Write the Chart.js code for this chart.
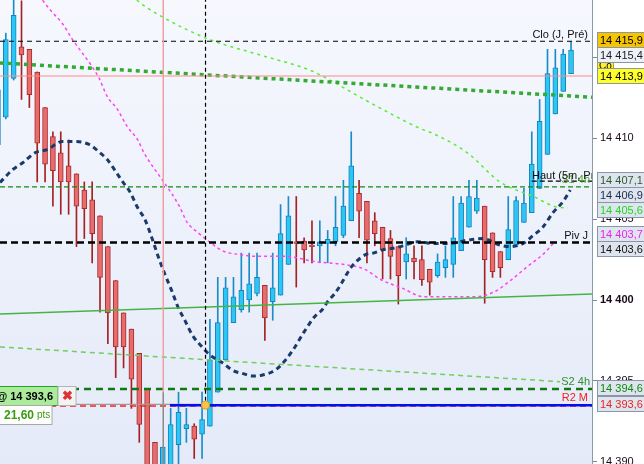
<!DOCTYPE html>
<html lang="fr">
<head>
    <meta charset="UTF-8">
    <title>Bougies 5 min</title>
    <style>
        body {
            margin: 0;
            padding: 0;
            background-color: #ffffff;
            overflow: hidden;
        }

        #chartContainer {
            width: 644px;
            height: 464px;
        }
    </style>
    <script src="https://cdn.jsdelivr.net/npm/chart.js"></script>
</head>
<body>
    <div id="chartContainer">
        <canvas id="prixChart" width="644" height="464"></canvas>
    </div>

    <script>
        // Bougies (de gauche à droite)
        const opens = [14409.6, 14411.3, 14413.7, 14415.65, 14415.5, 14414.1, 14411.9, 14410.1, 14409.1, 14408.3,
            14407.8, 14406.8, 14406.2, 14405.2, 14403.3, 14401.2, 14399.2, 14398.2, 14396.7, 14394.5,
            14391.2, 14389.2, 14389.3, 14391.05, 14392.05, 14392.2, 14391.7, 14392.2, 14394.3, 14396.3,
            14398.6, 14399.4, 14400.0, 14400.4, 14400.9, 14399.9, 14400.3, 14402.2, 14403.6, 14403.65,
            14403.4, 14403.35, 14403.5, 14403.6, 14404.0, 14404.9, 14406.6, 14406.1, 14404.9, 14404.5,
            14403.8, 14403.3, 14402.35, 14402.6, 14402.5, 14401.9, 14401.5, 14402.0, 14402.2, 14403.05,
            14404.5, 14405.5, 14405.8, 14404.15, 14403.0, 14402.5, 14403.4, 14404.8, 14405.4, 14406.9,
            14409.0, 14411.5, 14412.9, 14414.0];
        const highs = [14413.3, 14416.5, 14419.0, 14418.5, 14415.5, 14414.1, 14411.9, 14410.4, 14410.4, 14409.9,
            14407.8, 14407.3, 14407.3, 14405.2, 14403.3, 14401.2, 14399.2, 14398.2, 14396.7, 14394.5,
            14391.2, 14390.9, 14393.3, 14394.3, 14393.3, 14392.35, 14394.3, 14398.8, 14401.4, 14401.4,
            14401.4, 14402.9, 14402.9, 14402.9, 14400.9, 14402.9, 14405.9, 14406.4, 14406.4, 14403.85,
            14404.9, 14404.9, 14404.3, 14406.4, 14407.4, 14410.4, 14407.4, 14406.1, 14405.4, 14404.5,
            14404.3, 14403.3, 14403.85, 14403.35, 14403.35, 14401.9, 14402.85, 14403.35, 14406.4, 14406.4,
            14407.4, 14407.4, 14405.8, 14404.15, 14403.0, 14406.4, 14406.4, 14406.9, 14410.4, 14412.4,
            14415.5, 14415.5, 14415.5, 14416.0];
        const lows = [14409.0, 14411.2, 14413.6, 14412.4, 14411.9, 14407.3, 14407.3, 14405.8, 14405.3, 14405.3,
            14403.3, 14403.8, 14402.3, 14399.25, 14397.3, 14395.2, 14395.8, 14393.3, 14391.2, 14388.5,
            14388.5, 14388.5, 14388.5, 14389.5, 14391.2, 14390.2, 14390.2, 14392.2, 14394.3, 14396.3,
            14398.6, 14399.25, 14399.25, 14400.25, 14397.5, 14398.75, 14400.3, 14402.2, 14400.8, 14402.3,
            14402.3, 14402.3, 14402.3, 14403.35, 14403.85, 14404.9, 14403.85, 14402.3, 14403.35, 14401.3,
            14401.3, 14399.75, 14401.3, 14401.3, 14400.9, 14400.3, 14401.4, 14401.4, 14401.4, 14403.05,
            14404.5, 14405.35, 14399.8, 14401.4, 14401.4, 14402.5, 14403.4, 14404.8, 14405.4, 14406.9,
            14409.0, 14411.5, 14412.9, 14414.0];
        const closes = [14413.0, 14416.1, 14417.6, 14415.15, 14412.7, 14409.7, 14408.4, 14408.0, 14407.3, 14407.3,
            14405.8, 14405.65, 14404.1, 14401.4, 14399.2, 14397.1, 14397.1, 14395.1, 14392.3, 14388.8,
            14388.8, 14390.9, 14392.3, 14393.05, 14392.3, 14391.4, 14392.6, 14396.3, 14398.6, 14400.75,
            14400.2, 14400.6, 14401.0, 14401.4, 14398.9, 14400.75, 14404.1, 14405.2, 14403.5, 14403.1,
            14403.3, 14403.6, 14403.75, 14404.5, 14405.8, 14408.3, 14405.5, 14403.7, 14404.1, 14403.1,
            14402.7, 14401.5, 14402.85, 14402.35, 14401.25, 14401.1, 14402.35, 14402.5, 14403.85, 14406.0,
            14406.4, 14406.3, 14402.5, 14401.75, 14402.0, 14404.35, 14406.15, 14406.0, 14408.4, 14411.05,
            14414.0, 14414.35, 14415.2, 14415.45];

        // Moyenne bleu marine (position en bougies, valeur)
        const mmLongX = [0.26, 1.9, 3.2, 4.7, 6.25, 8.2, 9.6, 11.7, 13.0, 13.9, 15.2, 15.9, 16.8, 17.8, 18.7,
            19.6, 20.4, 21.3, 22.2, 22.9, 23.8, 24.8, 26.0, 27.0, 28.5, 29.9, 31.2, 32.5, 33.6, 34.9, 35.9,
            37.5, 38.9, 40.3, 41.3, 42.0, 42.9, 43.6, 44.2, 44.8, 45.7, 46.8, 47.8, 49.0, 50.3, 51.6, 53.4,
            55.4, 57.6, 59.8, 61.8, 63.9, 65.2, 66.9, 68.2, 69.4, 70.7, 72.0, 72.9];
        const mmLongY = [14407.27, 14408.07, 14408.5, 14409.1, 14409.3, 14409.8, 14409.8, 14409.6, 14409.1, 14408.7,
            14407.8, 14407.3, 14406.7, 14405.7, 14405.0, 14403.85, 14402.7, 14401.55, 14400.5, 14399.6, 14398.75,
            14397.8, 14397.1, 14396.6, 14396.15, 14395.65, 14395.45, 14395.3, 14395.35, 14395.55, 14395.9,
            14396.85, 14397.95, 14398.95, 14399.4, 14399.9, 14400.4, 14400.9, 14401.4, 14401.9, 14402.4,
            14402.8, 14402.9, 14403.1, 14403.2, 14403.35, 14403.6, 14403.5, 14403.5, 14403.7, 14403.8,
            14403.4, 14403.3, 14403.5, 14404.0, 14404.5, 14405.4, 14406.1, 14406.8];

        // Moyenne magenta
        const mmRoseX = [4.5, 5.6, 6.9, 8.2, 9.5, 10.7, 11.9, 12.9, 13.9, 15.2, 16.5, 17.8, 18.6, 20.9, 22.1,
            23.1, 24.1, 25.4, 27.2, 28.8, 31.0, 32.7, 36.5, 40.7, 44.1, 46.7, 48.8, 51.4, 54.3, 57.7, 60.7,
            63.2, 65.4, 67.4, 69.6, 70.9];
        const mmRoseY = [14419.5, 14418.6, 14417.8, 14417.1, 14416.1, 14415.3, 14414.5, 14413.7, 14412.6, 14411.8,
            14410.7, 14409.9, 14409.1, 14407.45, 14406.6, 14405.8, 14404.8, 14404.2, 14403.5, 14403.0, 14402.8,
            14402.7, 14402.7, 14402.35, 14402.2, 14401.9, 14401.25, 14400.75, 14400.2, 14400.2, 14400.2,
            14400.5, 14401.25, 14402.05, 14402.9, 14403.6];

        // Moyenne vert clair
        const mmVertX = [16.5, 17.7, 20.6, 27.0, 33.4, 39.8, 42.3, 46.1, 50.3, 53.8, 55.4, 59.8, 63.95, 68.2, 71.2, 72.6];
        const mmVertY = [14419.2, 14418.55, 14417.6, 14416.1, 14415.15, 14414.2, 14413.6, 14412.55, 14411.45,
            14410.6, 14410.3, 14409.1, 14407.3, 14406.4, 14405.75, 14405.7];

        // Niveaux horizontaux
        const cloJPre = 14416.0;
        const resistance = 14413.85;
        const haut5m = 14407.35;
        const s1h4 = 14407.0;
        const pivJ = 14403.55;
        const s2h4 = 14394.5;
        const r2M = 14393.45;
        const ordre = 14393.5;

        // Droites obliques (début, fin)
        const tendanceX = [0.26, 75.67];
        const tendanceY = [14414.66, 14412.54];
        const supportX = [0.26, 75.67];
        const supportY = [14399.13, 14400.37];
        const s2ClairX = [0.26, 71.6];
        const s2ClairY = [14397.1, 14394.95];

        // Curseur et ordre
        const curseurX = 26.44;
        const ordreX = 21.06;
        const ordreDebut = 21.9;
        const gainPts = 21.6;

        // Étiquettes de l'axe de droite
        const etiquettes = [14415.9, 14415.4, 14413.9, 14407.1, 14406.9, 14405.6, 14403.7, 14403.6, 14394.6, 14393.6];

        const X_MIN = 0.26;
        const X_MAX = 75.67;
        const Y_MIN = 14389.86;
        const Y_MAX = 14418.55;
        const police = '"Liberation Sans", Arial, sans-serif';

        function fmtPrix(v, dec) {
            const s = v.toFixed(dec).split('.');
            const ent = s[0].replace(/\B(?=(\d{3})+(?!\d))/g, ' ');
            return s.length > 1 ? ent + ',' + s[1] : ent;
        }

        function ligne(xs, ys) {
            return xs.map((x, i) => ({ x: x, y: ys[i] }));
        }

        function horiz(v, from, to) {
            return [{ x: from, y: v }, { x: to, y: v }];
        }

        const idx = opens.map((_, i) => i);
        const hausse = idx.map(i => closes[i] >= opens[i]);

        function trait(data, color, width, dash, order, extra) {
            return Object.assign({
                type: 'line',
                data: data,
                borderColor: color,
                borderWidth: width,
                borderDash: dash,
                pointRadius: 0,
                fill: false,
                order: order
            }, extra || {});
        }

        const datasets = [
            // point d'ordre
            {
                type: 'line',
                data: [{ x: curseurX, y: ordre }],
                showLine: false,
                pointRadius: 4,
                pointBackgroundColor: '#ffc24a',
                pointBorderColor: '#e0a020',
                pointBorderWidth: 1,
                order: 0
            },
            trait(horiz(ordre, ordreDebut, X_MAX), '#0010ee', 2.5, [], 1),
            trait(horiz(ordre + 0.05, 6.9, curseurX), '#9a9a9a', 1.2, [], 2),
            trait([{ x: curseurX, y: Y_MAX + 1 }, { x: curseurX, y: ordre }], '#000000', 1.2, [4, 3], 1),
            trait([{ x: ordreX, y: Y_MAX + 1 }, { x: ordreX, y: 14394.3 }], '#f0a0a0', 1, [], 2),
            trait([{ x: ordreX, y: 14394.3 }, { x: ordreX, y: Y_MIN - 1 }], '#8a8a8a', 1, [], 2),
            trait(horiz(r2M, X_MIN, X_MAX), '#ff2020', 1.5, [6, 4], 2),
            trait(horiz(s2h4, X_MIN, X_MAX), '#117711', 2.5, [7, 5], 2),
            trait(horiz(pivJ, X_MIN, X_MAX), '#000000', 2.5, [7, 4], 2),
            trait(horiz(s1h4, X_MIN, X_MAX), '#108a10', 1.2, [5, 3], 2),
            trait(horiz(haut5m, 68.0, X_MAX), '#000000', 1.2, [5, 3], 2),
            trait(horiz(resistance, X_MIN, X_MAX), '#ff8a8a', 1.2, [], 2),
            trait(horiz(cloJPre, X_MIN, X_MAX), '#000000', 1.2, [5, 4], 2),
            trait(ligne(tendanceX, tendanceY), '#33aa33', 3.5, [4, 4], 3),
            trait(ligne(supportX, supportY), '#44b544', 1.5, [], 3),
            trait(ligne(s2ClairX, s2ClairY), '#6fcf5f', 1.5, [5, 4], 3),
            trait(ligne(mmLongX, mmLongY), '#1a3a6a', 3, [5, 4], 3, { cubicInterpolationMode: 'monotone' }),
            trait(ligne(mmRoseX, mmRoseY), '#ff44ee', 1.5, [3, 3], 3, { cubicInterpolationMode: 'monotone' }),
            trait(ligne(mmVertX, mmVertY), '#55ee33', 1.5, [3, 4], 3, { cubicInterpolationMode: 'monotone' }),
            // corps des bougies
            {
                type: 'bar',
                data: idx.map(i => ({ x: i, y: [opens[i], closes[i]] })),
                backgroundColor: hausse.map(h => h ? '#2cc6f4' : '#e86c6c'),
                borderColor: hausse.map(h => h ? '#1484be' : '#a82a2a'),
                borderWidth: 1,
                borderSkipped: false,
                barThickness: 5,
                grouped: false,
                order: 5
            },
            // mèches
            {
                type: 'bar',
                data: idx.map(i => ({ x: i, y: [lows[i], highs[i]] })),
                backgroundColor: hausse.map(h => h ? '#1a8cc8' : '#a32222'),
                borderWidth: 0,
                barThickness: 1,
                grouped: false,
                order: 6
            }
        ];

        // place les étiquettes sans chevauchement
        function placer(ys, h) {
            let groupes = ys.map((y, i) => ({ membres: [i], centre: y }));
            groupes.sort((a, b) => a.centre - b.centre);
            let fusion = true;
            while (fusion) {
                fusion = false;
                for (let g = 0; g < groupes.length - 1; g++) {
                    const a = groupes[g], b = groupes[g + 1];
                    if (a.centre + a.membres.length * h / 2 > b.centre - b.membres.length * h / 2) {
                        const membres = a.membres.concat(b.membres);
                        const centre = membres.reduce((s, i) => s + ys[i], 0) / membres.length;
                        groupes.splice(g, 2, { membres: membres, centre: centre });
                        fusion = true;
                        break;
                    }
                }
            }
            const hauts = [];
            groupes.forEach(g => {
                const top = g.centre - g.membres.length * h / 2;
                g.membres.forEach((i, k) => { hauts[i] = top + k * h; });
            });
            return hauts;
        }

        const styleEtiq = [
            { fond: '#f7c400', texte: '#000000' },
            { fond: '#eef1f6', texte: '#1a1a2a' },
            { fond: '#ffff2a', texte: '#000000' },
            { fond: '#dfe5ee', texte: '#2f5a2f' },
            { fond: '#dfe5ee', texte: '#1b2b4b' },
            { fond: '#dfe5ee', texte: '#1fd81f' },
            { fond: '#dfe5ee', texte: '#ee22ee' },
            { fond: '#dfe5ee', texte: '#111111' },
            { fond: '#dfe5ee', texte: '#118811' },
            { fond: '#dfe5ee', texte: '#ee2222' }
        ];

        const decor = {
            id: 'decor',
            beforeDraw(chart) {
                const { ctx, chartArea: a } = chart;
                ctx.save();
                ctx.fillStyle = '#ffffff';
                ctx.fillRect(0, 0, chart.width, chart.height);
                const grad = ctx.createLinearGradient(0, a.top, 0, a.bottom);
                grad.addColorStop(0, '#f6f8fe');
                grad.addColorStop(1, '#e4eaf8');
                ctx.fillStyle = grad;
                ctx.fillRect(a.left, a.top, a.right - a.left, a.bottom - a.top);
                ctx.restore();
            },
            afterDatasetsDraw(chart) {
                const { ctx, chartArea: a } = chart;
                const y = chart.scales.y;
                ctx.save();
                ctx.beginPath();
                ctx.rect(a.left, a.top, a.right - a.left, a.bottom - a.top);
                ctx.clip();
                ctx.font = '11px ' + police;
                ctx.textBaseline = 'bottom';
                ctx.textAlign = 'right';
                ctx.fillStyle = '#111111';
                ctx.fillText('Clo (J, Pré)', 588, y.getPixelForValue(cloJPre) - 1);
                ctx.fillStyle = '#4aa82a';
                ctx.fillText('S1 4h', 590, y.getPixelForValue(s1h4) - 1);
                ctx.textAlign = 'left';
                ctx.fillStyle = '#111111';
                ctx.fillText('Haut (5m, Pré)', 532, y.getPixelForValue(haut5m) - 0);
                ctx.textAlign = 'right';
                ctx.fillText('Piv J', 588, y.getPixelForValue(pivJ) - 1);
                ctx.fillStyle = '#2f8f2f';
                ctx.fillText('S2 4h', 590, y.getPixelForValue(s2h4) - 1);
                ctx.fillStyle = '#ee2020';
                ctx.fillText('R2 M', 588, y.getPixelForValue(r2M) - 2);
                ctx.restore();
            },
            afterDraw(chart) {
                const { ctx } = chart;
                const y = chart.scales.y;
                const h = 15;
                const hauts = placer(etiquettes.map(v => y.getPixelForValue(v)), h);
                ctx.save();
                ctx.textBaseline = 'middle';
                ctx.textAlign = 'left';

                // petite étiquette cachée sous les autres
                ctx.fillStyle = '#ffee33';
                ctx.fillRect(597.5, hauts[2] - 8.5, 16, h);
                ctx.strokeStyle = '#b0a040';
                ctx.strokeRect(597.5, hauts[2] - 8.5, 16, h);
                ctx.fillStyle = '#000000';
                ctx.font = '10px ' + police;
                ctx.fillText('Co', 599, hauts[2] - 1);
                ctx.font = '11px ' + police;

                etiquettes.forEach((v, i) => {
                    const top = Math.round(hauts[i]) + 0.5;
                    ctx.fillStyle = styleEtiq[i].fond;
                    ctx.fillRect(597.5, top, 50, h);
                    ctx.strokeStyle = '#8a96a8';
                    ctx.lineWidth = 1;
                    ctx.strokeRect(597.5, top, 50, h);
                    ctx.fillStyle = styleEtiq[i].texte;
                    ctx.fillText(fmtPrix(v, 1), 600, top + h / 2 + 0.5);
                });

                // ordre en cours à gauche
                const yo = Math.round(y.getPixelForValue(ordre)) + 0.5;
                ctx.fillStyle = '#aaec9c';
                ctx.fillRect(-2, yo - 19, 60, 19);
                ctx.strokeStyle = '#2aa02a';
                ctx.strokeRect(-2, yo - 19, 60, 19);
                ctx.fillStyle = '#f3f3f3';
                ctx.fillRect(58, yo - 19, 18, 19);
                ctx.strokeStyle = '#b4b4b4';
                ctx.strokeRect(58, yo - 19, 18, 19);
                ctx.fillStyle = '#ffffff';
                ctx.fillRect(-2, yo, 54, 19);
                ctx.strokeStyle = '#a8a8a8';
                ctx.strokeRect(-2, yo, 54, 19);

                ctx.textAlign = 'right';
                ctx.fillStyle = '#000000';
                ctx.font = 'bold 11px ' + police;
                ctx.fillText('@ ' + fmtPrix(ordre + 0.1, 1), 53, yo - 9);
                ctx.textAlign = 'center';
                ctx.fillStyle = '#dd3333';
                ctx.font = 'bold 13px ' + police;
                ctx.fillText('✖', 67, yo - 9);
                ctx.textAlign = 'left';
                ctx.fillStyle = '#3a9a10';
                ctx.font = 'bold 12px ' + police;
                const g = fmtPrix(gainPts, 2);
                ctx.fillText(g, 4, yo + 10);
                const w = ctx.measureText(g).width;
                ctx.font = '10px ' + police;
                ctx.fillText('pts', 4 + w + 3, yo + 10);
                ctx.restore();
            }
        };

        const chart = new Chart(document.getElementById('prixChart'), {
            type: 'bar',
            data: { datasets: datasets },
            options: {
                responsive: false,
                animation: false,
                events: [],
                layout: { padding: 0, autoPadding: false },
                plugins: {
                    legend: { display: false },
                    tooltip: { enabled: false }
                },
                scales: {
                    x: {
                        type: 'linear',
                        min: X_MIN,
                        max: X_MAX,
                        offset: false,
                        display: false
                    },
                    y: {
                        type: 'linear',
                        position: 'right',
                        min: Y_MIN,
                        max: Y_MAX,
                        beginAtZero: false,
                        afterFit(scale) {
                            scale.width = 52;
                            scale.paddingTop = 0;
                            scale.paddingBottom = 0;
                        },
                        ticks: {
                            stepSize: 5,
                            includeBounds: false,
                            padding: 3,
                            color: '#1a0a1a',
                            font: (c) => ({
                                family: police,
                                size: 11,
                                weight: c.tick && c.tick.value === 14400 ? 'bold' : 'normal'
                            }),
                            callback: v => fmtPrix(v, 0)
                        },
                        grid: {
                            drawOnChartArea: false,
                            tickLength: 5,
                            color: '#7a8a9a'
                        },
                        border: { color: '#8a9aaa' }
                    }
                }
            },
            plugins: [decor]
        });
    </script>
</body>
</html>
